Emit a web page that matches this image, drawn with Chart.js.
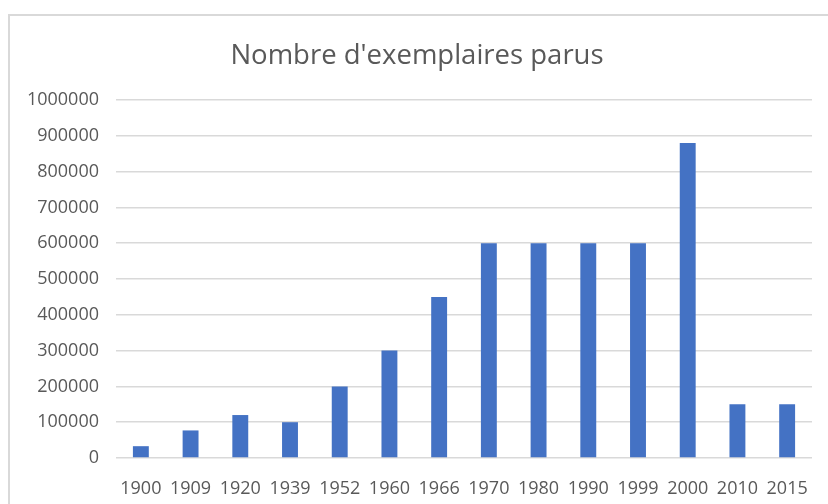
<!DOCTYPE html>
<html>
<head>
<meta charset="utf-8">
<script src="https://cdn.jsdelivr.net/npm/chart.js@4"></script>
<style>
  html, body { margin: 0; padding: 0; background: #fff; }
  #wrap { position: relative; width: 828px; height: 504px; overflow: hidden; }
  #frame { position: absolute; left: 8px; top: 14px; width: 900px; height: 600px;
           border-left: 2px solid #d9d9d9; border-top: 2px solid #d9d9d9; }
  canvas { position: absolute; left: 0; top: 0; }
</style>
</head>
<body>
<div id="wrap">
  <div id="frame"></div>
  <canvas id="chart" width="828" height="504"></canvas>
</div>
<script>
const annees = ['1900', '1909', '1920', '1939', '1952', '1960', '1966', '1970', '1980', '1990', '1999', '2000', '2010', '2015'];
const exemplaires = [33000, 77000, 120000, 100000, 200000, 300000, 450000, 600000, 600000, 600000, 600000, 880000, 150000, 150000];
const titre = "Nombre d'exemplaires parus";

const gris = '#595959';

new Chart(document.getElementById('chart').getContext('2d'), {
    type: 'bar',
    data: {
        labels: annees,
        datasets: [{
            data: exemplaires,
            backgroundColor: '#4472C4',
            barPercentage: 0.32,
            categoryPercentage: 1
        }]
    },
    options: {
        responsive: false,
        animation: false,
        // padding gauche pour recentrer le titre comme dans Excel
        layout: { padding: { left: 22, right: 16, top: 0, bottom: 0 } },
        plugins: {
            legend: { display: false },
            tooltip: { enabled: false },
            title: {
                display: true,
                text: titre,
                color: gris,
                font: { family: 'Open Sans', size: 27.5, weight: 'normal' },
                padding: { top: 40, bottom: 27 }
            }
        },
        scales: {
            x: {
                afterFit: (scale) => { scale.height = 46; },
                grid: { display: false },
                border: { display: false },
                ticks: {
                    color: gris,
                    font: { family: 'Open Sans', size: 18 },
                    padding: 12,
                    maxRotation: 0,
                    autoSkip: false
                }
            },
            y: {
                min: 0,
                max: 1000000,
                afterFit: (scale) => { scale.width = 94; },
                grid: { color: '#d9d9d9', lineWidth: 1.5, drawTicks: false },
                border: { display: false },
                ticks: {
                    stepSize: 100000,
                    color: gris,
                    font: { family: 'Open Sans', size: 18 },
                    padding: 17,
                    callback: (v) => String(v)
                }
            }
        }
    }
});
</script>
</body>
</html>
